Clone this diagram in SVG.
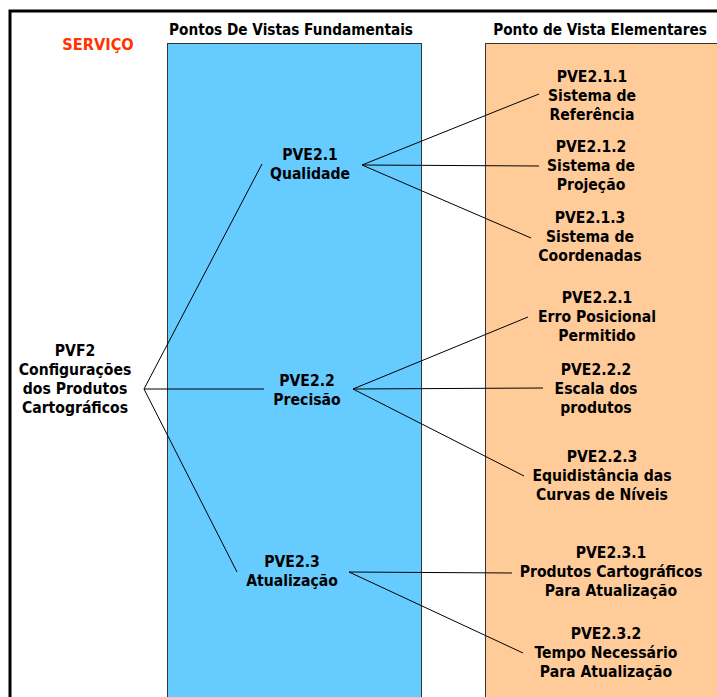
<svg xmlns="http://www.w3.org/2000/svg" width="717" height="697" viewBox="0 0 717 697">
<style>
.t{font-family:"DejaVu Sans Condensed","DejaVu Sans","Liberation Sans",sans-serif;font-weight:bold;font-size:15.6px;fill:#000;text-anchor:middle}
.h{font-family:"DejaVu Sans Condensed","DejaVu Sans","Liberation Sans",sans-serif;font-weight:bold;font-size:15.2px;fill:#000;text-anchor:middle}
.c{stroke:#000;stroke-width:1;fill:none}
</style>
<rect x="0" y="0" width="717" height="697" fill="#fff"/>
<path d="M10,700 V11 H720" fill="none" stroke="#000" stroke-width="3"/>
<g id="col-fundamentais">
<rect x="167.5" y="43.5" width="254" height="660" fill="#66ccff" stroke="#333" stroke-width="1"/>
<text class="h" x="291" y="35">Pontos De Vistas Fundamentais</text>
</g>
<g id="col-elementares">
<rect x="485.5" y="43.5" width="240" height="660" fill="#ffcc99" stroke="#333" stroke-width="1"/>
<text class="h" x="600" y="35">Ponto de Vista Elementares</text>
</g>
<g id="servico">
<text x="98" y="50" style="font-family:'DejaVu Sans Condensed','DejaVu Sans','Liberation Sans',sans-serif;font-weight:bold;font-size:16.2px;fill:#ff3300;text-anchor:middle">SERVIÇO</text>
</g>
<g id="connectors">
<line class="c" x1="144" y1="389" x2="262" y2="164"/>
<line class="c" x1="144" y1="389" x2="264" y2="389"/>
<line class="c" x1="144" y1="389" x2="237" y2="572"/>
<line class="c" x1="362" y1="165" x2="539" y2="94"/>
<line class="c" x1="362" y1="165" x2="539" y2="166"/>
<line class="c" x1="362" y1="165" x2="531" y2="238"/>
<line class="c" x1="353" y1="389" x2="528" y2="317"/>
<line class="c" x1="353" y1="389" x2="543" y2="388"/>
<line class="c" x1="353" y1="389" x2="524" y2="476"/>
<line class="c" x1="349" y1="572" x2="512" y2="573"/>
<line class="c" x1="349" y1="572" x2="523" y2="653"/>
</g>
<g id="PVF2">
<text class="t" x="75" y="356">PVF2</text>
<text class="t" x="75" y="375">Configurações</text>
<text class="t" x="75" y="394">dos Produtos</text>
<text class="t" x="75" y="413">Cartográficos</text>
</g>
<g id="PVE2.1">
<text class="t" x="310" y="160">PVE2.1</text>
<text class="t" x="310" y="179">Qualidade</text>
</g>
<g id="PVE2.2">
<text class="t" x="307" y="386">PVE2.2</text>
<text class="t" x="307" y="405">Precisão</text>
</g>
<g id="PVE2.3">
<text class="t" x="292" y="567">PVE2.3</text>
<text class="t" x="292" y="586">Atualização</text>
</g>
<g id="PVE2.1.1">
<text class="t" x="592" y="82">PVE2.1.1</text>
<text class="t" x="592" y="101">Sistema de</text>
<text class="t" x="592" y="120">Referência</text>
</g>
<g id="PVE2.1.2">
<text class="t" x="591" y="152">PVE2.1.2</text>
<text class="t" x="591" y="171">Sistema de</text>
<text class="t" x="591" y="190">Projeção</text>
</g>
<g id="PVE2.1.3">
<text class="t" x="590" y="223">PVE2.1.3</text>
<text class="t" x="590" y="242">Sistema de</text>
<text class="t" x="590" y="261">Coordenadas</text>
</g>
<g id="PVE2.2.1">
<text class="t" x="597" y="303">PVE2.2.1</text>
<text class="t" x="597" y="322">Erro Posicional</text>
<text class="t" x="597" y="341">Permitido</text>
</g>
<g id="PVE2.2.2">
<text class="t" x="596" y="375">PVE2.2.2</text>
<text class="t" x="596" y="394">Escala dos</text>
<text class="t" x="596" y="413">produtos</text>
</g>
<g id="PVE2.2.3">
<text class="t" x="602" y="462">PVE2.2.3</text>
<text class="t" x="602" y="481">Equidistância das</text>
<text class="t" x="602" y="500">Curvas de Níveis</text>
</g>
<g id="PVE2.3.1">
<text class="t" x="611" y="558">PVE2.3.1</text>
<text class="t" x="611" y="577">Produtos Cartográficos</text>
<text class="t" x="611" y="596">Para Atualização</text>
</g>
<g id="PVE2.3.2">
<text class="t" x="606" y="639">PVE2.3.2</text>
<text class="t" x="606" y="658">Tempo Necessário</text>
<text class="t" x="606" y="677">Para Atualização</text>
</g>
</svg>
